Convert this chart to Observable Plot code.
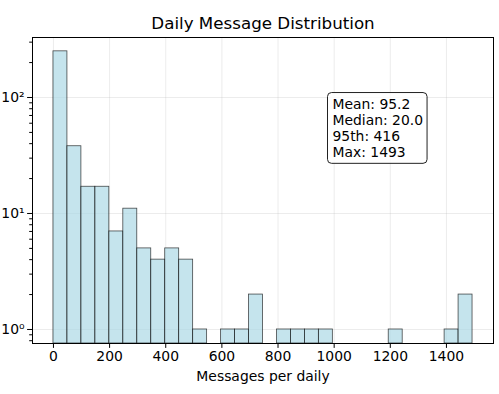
<!DOCTYPE html>
<html>
<head>
<meta charset="utf-8">
<script src="https://cdn.jsdelivr.net/npm/d3@7"></script>
<script src="https://cdn.jsdelivr.net/npm/@observablehq/plot@0.6"></script>
<style>
  body { margin: 0; background: white; }
  svg { font-family: "DejaVu Sans", sans-serif; }
</style>
</head>
<body>
<div id="chart"></div>
<script>
// Histogram: 30 bins from min 0 to max 1493
const binMin = 0;
const binMax = 1493;
const counts = [250, 38, 17, 17, 7, 11, 5, 4, 5, 4,
                1, 0, 1, 1, 2, 0, 1, 1, 1, 1,
                0, 0, 0, 0, 1, 0, 0, 0, 1, 2];
const xTicks = [0, 200, 400, 600, 800, 1000, 1200, 1400];
const yMajor = [1, 10, 100];
const yMajorLabels = ["10⁰", "10¹", "10²"];
const yMinor = [0.8, 0.9, 2, 3, 4, 5, 6, 7, 8, 9, 20, 30, 40, 50, 60, 70, 80, 90, 200, 300];
const statsLines = ["Mean: 95.2", "Median: 20.0", "95th: 416", "Max: 1493"];
const title = "Daily Message Distribution";
const xLabel = "Messages per daily";

const nBins = counts.length;
const w = (binMax - binMin) / nBins;
const bins = counts.map((c, i) => ({x1: binMin + i * w, x2: binMin + (i + 1) * w, count: c}))
  .filter(d => d.count > 0);

const yDomain = [0.757, 329];
const xDomain = [-74.65, 1567.65];
const fs = 13.9;

const plot = Plot.plot({
  width: 499,
  height: 394,
  marginTop: 37,
  marginLeft: 32,
  marginRight: 6,
  marginBottom: 51,
  style: {fontFamily: "DejaVu Sans, sans-serif", fontSize: fs + "px", color: "black", background: "white"},
  x: {domain: xDomain},
  y: {type: "log", domain: yDomain},
  marks: [
    Plot.gridX(xTicks, {stroke: "#b0b0b0", strokeOpacity: 0.3, strokeWidth: 0.8}),
    Plot.gridY(yMajor, {stroke: "#b0b0b0", strokeOpacity: 0.3, strokeWidth: 0.8}),
    Plot.rect(bins, {x1: "x1", x2: "x2", y1: yDomain[0], y2: "count",
      fill: "#add8e6", fillOpacity: 0.7, stroke: "black", strokeOpacity: 0.7, strokeWidth: 0.8, clip: true}),
    Plot.axisX(xTicks, {tickSize: 4.9, tickPadding: 3, fontSize: fs, label: null, tickFormat: d => String(d)}),
    Plot.axisY(yMajor, {tickSize: 4.9, tickPadding: 3, fontSize: fs, label: null,
      tickFormat: d => yMajorLabels[yMajor.indexOf(d)]}),
    Plot.axisY(yMinor, {tickSize: 2.8, tickFormat: null, label: null, text: null}),
    Plot.frame({stroke: "black", strokeWidth: 1}),
    Plot.text([xLabel], {frameAnchor: "bottom", dy: 37, text: d => d, fontSize: fs, lineAnchor: "bottom"}),
    Plot.text([title], {frameAnchor: "top", dy: -9, text: d => d, fontSize: 16.7, lineAnchor: "bottom"}),
    Plot.text([statsLines.join("\n")], {frameAnchor: "top-left", dx: 300, dy: 59.5, text: d => d,
      fontSize: fs, textAnchor: "start", lineAnchor: "top", lineHeight: 1.17, className: "stats"})
  ]
});

document.getElementById("chart").appendChild(plot);

// rounded box behind stats text
const svg = d3.select(plot);
const statsG = svg.select("g.stats");
if (!statsG.empty()) {
  const sr = plot.getBoundingClientRect();
  const tr = statsG.node().getBoundingClientRect();
  const padX = 5, padY = 4;
  svg.insert("rect", "g.stats")
    .attr("x", tr.left - sr.left - padX).attr("y", tr.top - sr.top - padY + 1)
    .attr("width", tr.width + 2 * padX - 1).attr("height", tr.height + 2 * padY - 2)
    .attr("rx", 4).attr("ry", 4)
    .attr("fill", "white").attr("fill-opacity", 0.8)
    .attr("stroke", "#222").attr("stroke-width", 1);
}
</script>
</body>
</html>
